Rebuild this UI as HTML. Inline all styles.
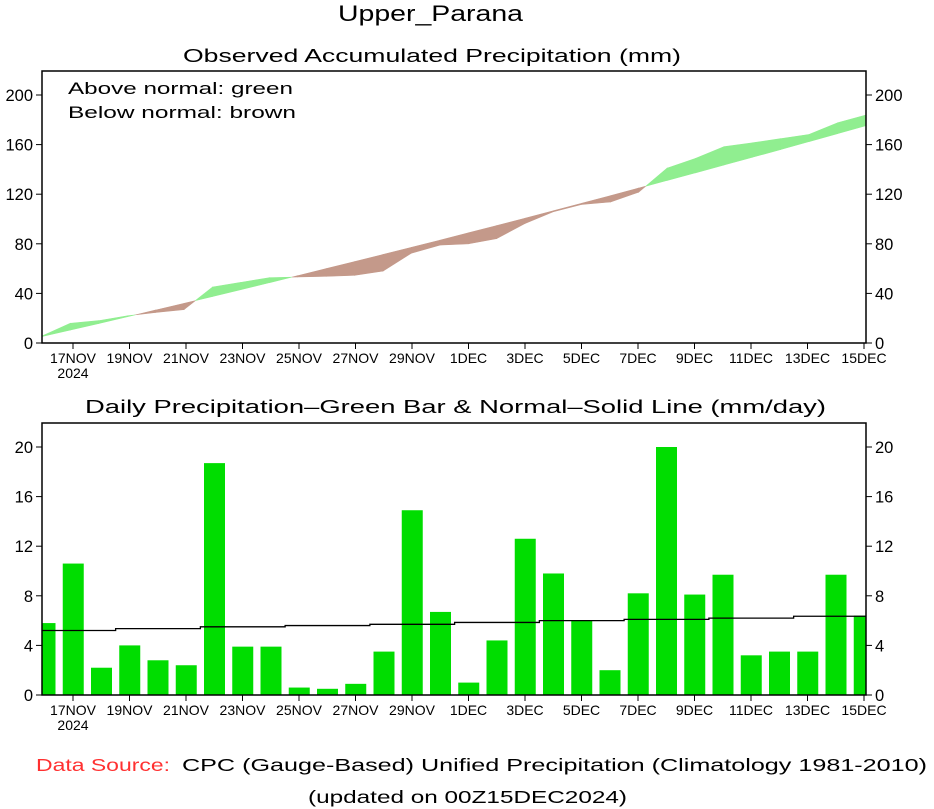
<!DOCTYPE html>
<html><head><style>
html,body{margin:0;padding:0;background:#fff;}
svg{display:block;font-family:"Liberation Sans",sans-serif;}
</style></head><body>
<svg id="s" width="934" height="809" xmlns="http://www.w3.org/2000/svg">
<text x="338" y="21" font-size="22" textLength="185" lengthAdjust="spacingAndGlyphs" fill="#000">Upper_Parana</text>
<text x="183" y="62" font-size="18" textLength="498" lengthAdjust="spacingAndGlyphs">Observed Accumulated Precipitation (mm)</text>
<text x="68" y="94" font-size="16.5" textLength="225" lengthAdjust="spacingAndGlyphs">Above normal: green</text>
<text x="68" y="118" font-size="16.5" textLength="228" lengthAdjust="spacingAndGlyphs">Below normal: brown</text>
<text x="85" y="413" font-size="18" textLength="741" lengthAdjust="spacingAndGlyphs">Daily Precipitation–Green Bar &amp; Normal–Solid Line (mm/day)</text>
<g id="top"></g>
<g id="bot"></g>
<text x="36" y="771" font-size="17.5" fill="#ff3030" textLength="134" lengthAdjust="spacingAndGlyphs">Data Source:</text>
<text x="182" y="771" font-size="17.5" textLength="745" lengthAdjust="spacingAndGlyphs">CPC (Gauge-Based) Unified Precipitation (Climatology 1981-2010)</text>
<text x="308" y="803" font-size="17.5" textLength="319" lengthAdjust="spacingAndGlyphs">(updated on 00Z15DEC2024)</text>
</svg>
<script>
const NS="http://www.w3.org/2000/svg";
function el(p,t,a,txt){const e=document.createElementNS(NS,t);for(const k in a)e.setAttribute(k,a[k]);if(txt!==undefined)e.textContent=txt;p.appendChild(e);return e;}
const obs=[5.8,10.6,2.2,4.0,2.8,2.4,18.7,3.9,3.9,0.6,0.5,0.9,3.5,14.9,6.7,1.0,4.4,12.6,9.8,6.0,2.0,8.2,20.0,8.1,9.7,3.2,3.5,3.5,9.7,6.4];
const nrm=[];const nv=[5.2,5.35,5.5,5.6,5.7,5.85,6.0,6.1,6.2,6.35];
for(let i=0;i<30;i++)nrm.push(nv[Math.floor(i/3)]);
const L=42,R=866;
const labels=["17NOV","19NOV","21NOV","23NOV","25NOV","27NOV","29NOV","1DEC","3DEC","5DEC","7DEC","9DEC","11DEC","13DEC","15DEC"];
const tx=i=>73+i*56.5;
function axes(g,T,B,max,step,scale){
 el(g,"rect",{x:L,y:T,width:R-L,height:B-T,fill:"none",stroke:"#000","stroke-width":1.5});
 for(let v=0;v<=max;v+=step){const y=B-v*scale;
  el(g,"line",{x1:L-6,x2:L,y1:y,y2:y,stroke:"#000"});
  el(g,"line",{x1:R,x2:R+6,y1:y,y2:y,stroke:"#000"});
  el(g,"text",{x:L-9,y:y+6,"font-size":16.5,"text-anchor":"end"},v);
  el(g,"text",{x:R+9,y:y+6,"font-size":16.5},v);}
 labels.forEach((s,i)=>{const x=tx(i);
  el(g,"line",{x1:x,x2:x,y1:B,y2:B+6,stroke:"#000"});
  el(g,"text",{x:x,y:B+20,"font-size":14,"text-anchor":"middle"},s);});
 el(g,"text",{x:tx(0),y:B+35,"font-size":14,"text-anchor":"middle"},"2024");
}
const gt=document.getElementById("top");
const T1=71,B1=343,sc1=(343-95)/200;
let co=[],cn=[],a=0,b=0;
for(let i=0;i<30;i++){a+=obs[i]*0.97;b+=nrm[i]*1.01;co.push(a);cn.push(b);}
const px=i=>L+i*(R-L)/29;
for(let i=0;i<29;i++){
 const x0=px(i),x1=px(i+1);
 const d0=co[i]-cn[i],d1=co[i+1]-cn[i+1];
 const Y=v=>B1-v*sc1;
 const poly=(xa,oa,na,xb,ob,nb,c)=>el(gt,"polygon",{points:`${xa},${Y(oa)} ${xb},${Y(ob)} ${xb},${Y(nb)} ${xa},${Y(na)}`,fill:c,stroke:c,"stroke-width":0.6});
 const col=d=>d>=0?"#90ee90":"#c4998a";
 if(d0*d1>=0){poly(x0,co[i],cn[i],x1,co[i+1],cn[i+1],col(d0+d1));}
 else{const t=d0/(d0-d1);const xc=x0+t*(x1-x0);const vc=co[i]+t*(co[i+1]-co[i]);
  poly(x0,co[i],cn[i],xc,vc,vc,col(d0));poly(xc,vc,vc,x1,co[i+1],cn[i+1],col(d1));}
}
axes(gt,T1,B1,200,40,sc1);
const gb=document.getElementById("bot");
const T2=423,B2=695,sc2=(695-447)/20;
for(let i=0;i<30;i++){
 const c=45+i*28.25;let x0=c-10.5,x1=c+10.5;x0=Math.max(x0,L);x1=Math.min(x1,R);
 el(gb,"rect",{x:x0,y:B2-obs[i]*sc2,width:x1-x0,height:obs[i]*sc2,fill:"#00dd00"});
}
let pts=[];
for(let i=0;i<30;i++){const y=B2-nrm[i]*sc2;const xa=Math.max(L,45+(i-0.5)*28.25),xb=Math.min(R,45+(i+0.5)*28.25);pts.push(xa+","+y,xb+","+y);}
el(gb,"polyline",{points:pts.join(" "),fill:"none",stroke:"#000","stroke-width":1.3});
axes(gb,T2,B2,20,4,sc2);
</script>
</body></html>
